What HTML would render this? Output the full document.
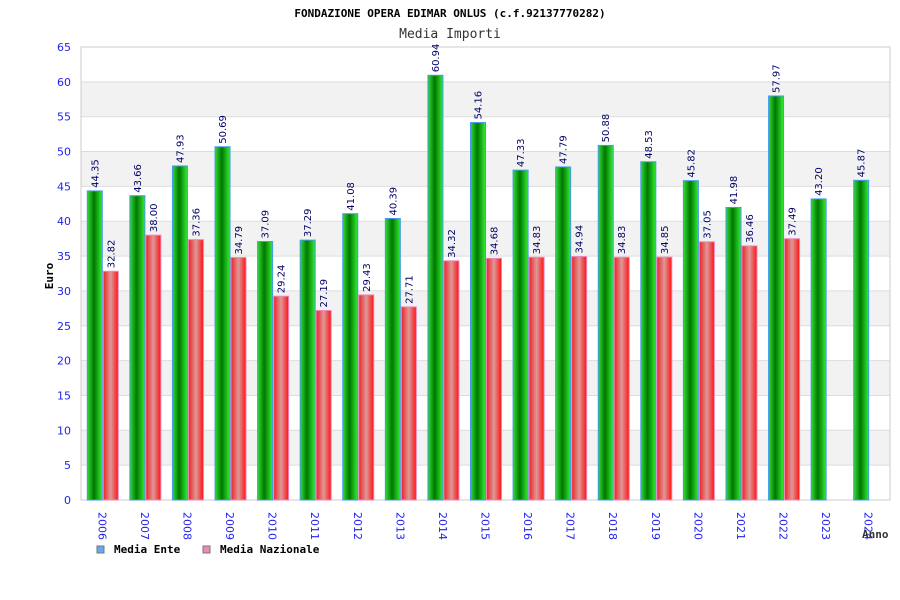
<!DOCTYPE html>
<html><head><meta charset="utf-8"><style>
body{margin:0;background:#fff}
svg{display:block;font-family:"DejaVu Sans Mono","Liberation Mono",monospace}
</style></head><body>
<svg width="900" height="600" viewBox="0 0 900 600">
<defs>
<linearGradient id="gg" x1="0" x2="1" y1="0" y2="0">
<stop offset="0" stop-color="#33dd33"/><stop offset="0.45" stop-color="#007700"/><stop offset="1" stop-color="#33ee33"/></linearGradient>
<linearGradient id="rg" x1="0" x2="1" y1="0" y2="0">
<stop offset="0" stop-color="#ee2222"/><stop offset="0.5" stop-color="#dd9999"/><stop offset="1" stop-color="#ff1111"/></linearGradient>
</defs>
<text x="450" y="17" text-anchor="middle" font-size="11" font-weight="bold" fill="#000">FONDAZIONE OPERA EDIMAR ONLUS (c.f.92137770282)</text>
<text x="450" y="38" text-anchor="middle" font-size="13" fill="#333">Media Importi</text>
<g id="bands"></g>
<rect x="81" y="47" width="809" height="453" fill="none" stroke="#ccc"/>
<g id="yticks"></g>
<g id="bars"></g>
<g id="xticks"></g>
<text transform="translate(53,276) rotate(-90)" text-anchor="middle" font-size="11" font-weight="bold" fill="#000">Euro</text>
<text x="862" y="538" font-size="11" font-weight="bold" fill="#333">Anno</text>
<g>
<rect x="97" y="546" width="7" height="7" fill="#66aaee" stroke="#777"/>
<text x="114" y="553" font-size="11" font-weight="bold">Media Ente</text></g>
<g>
<rect x="203" y="546" width="7" height="7" fill="#ee88bb" stroke="#777"/>
<text x="220" y="553" font-size="11" font-weight="bold">Media Nazionale</text></g>
</svg>
<script>
const years=["2006","2007","2008","2009","2010","2011","2012","2013","2014","2015","2016","2017","2018","2019","2020","2021","2022","2023","2024"];
const ente=[44.35,43.66,47.93,50.69,37.09,37.29,41.08,40.39,60.94,54.16,47.33,47.79,50.88,48.53,45.82,41.98,57.97,43.20,45.87];
const naz=[32.82,38.00,37.36,34.79,29.24,27.19,29.43,27.71,34.32,34.68,34.83,34.94,34.83,34.85,37.05,36.46,37.49,null,null];
const yTicks=[0,5,10,15,20,25,30,35,40,45,50,55,60,65];
const NS="http://www.w3.org/2000/svg";
const X0=81,W=809,Y0=500,H=453,YMAX=65;
const y=v=>Y0-v/YMAX*H;
const band=W/years.length;
const xc=i=>X0+band*(i+0.5);
function mk(t,a,p){const e=document.createElementNS(NS,t);for(const k in a)e.setAttribute(k,a[k]);p.appendChild(e);return e;}
const bands=document.getElementById('bands'),yt=document.getElementById('yticks'),bars=document.getElementById('bars'),xt=document.getElementById('xticks');
yTicks.forEach((v,i)=>{
 if(i<yTicks.length-1&&i%2==1){const r=mk('rect',{x:X0,y:y(yTicks[i+1]),width:W,height:y(v)-y(yTicks[i+1]),fill:'#f2f2f2'},bands);
 
 }
 const l=mk('line',{x1:X0,x2:X0+W,y1:y(v),y2:y(v),stroke:'#ddd'},bands);
 
 
 const t=mk('text',{x:71,y:y(v)+4,'text-anchor':'end','font-size':11,fill:'#2222ee','font-family':'DejaVu Sans,sans-serif'},yt);
 t.textContent=v;
 
 
});
function bar(v,x,fill,stroke,name){
 const r=mk('rect',{x:x,y:y(v),width:15,height:Y0-y(v),fill:fill,stroke:stroke,'stroke-width':1},bars);
 
 
 const t=mk('text',{transform:`translate(${x+11},${y(v)-3}) rotate(-90)`,'font-size':10,fill:'#000066','font-family':'DejaVu Sans,sans-serif'},bars);
 t.textContent=v.toFixed(2);
 
 
}
years.forEach((yr,i)=>{
 const c=xc(i);
 bar(ente[i],c-15,'url(#gg)','#4499ee','bar-ente-'+yr);
 if(naz[i]!=null)bar(naz[i],c+1,'url(#rg)','#ee88bb','bar-nazionale-'+yr);
 const t=mk('text',{transform:`translate(${c-4},${512}) rotate(90)`,'font-size':11,fill:'#2222ee','font-family':'DejaVu Sans,sans-serif'},xt);
 t.textContent=yr;
 
 
});
</script>
</body></html>
